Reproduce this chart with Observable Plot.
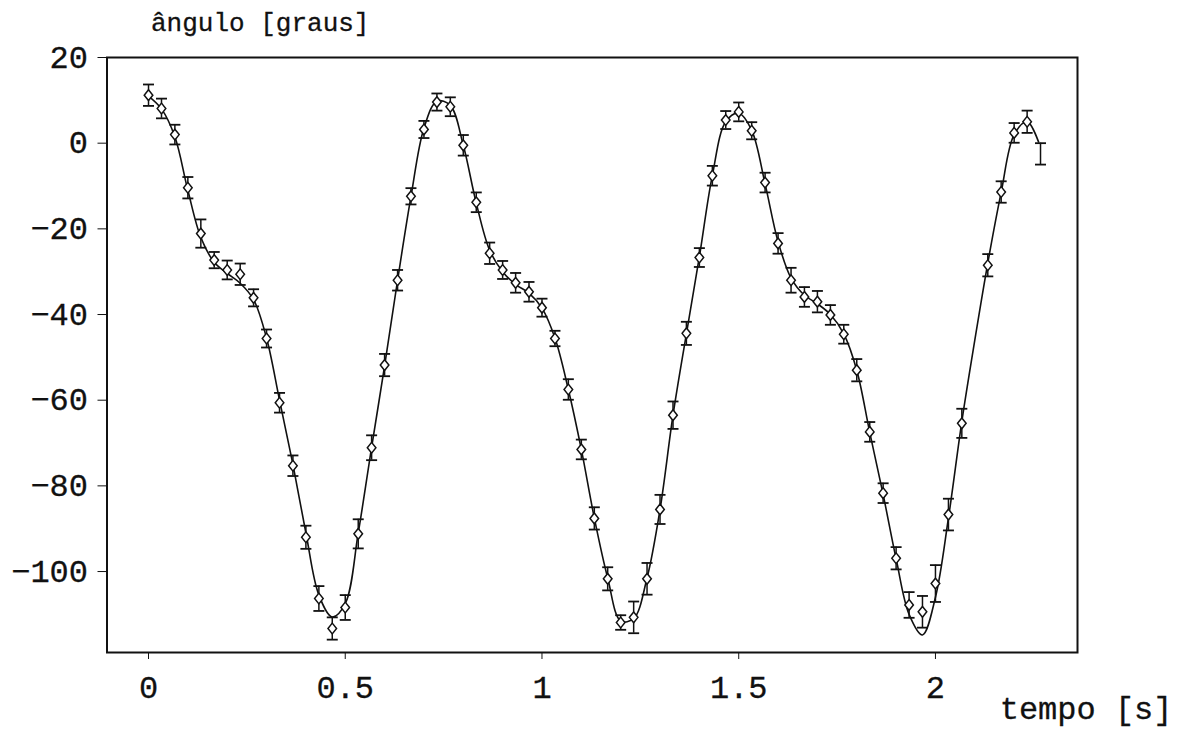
<!DOCTYPE html>
<html>
<head>
<meta charset="utf-8">
<script src="https://cdn.jsdelivr.net/npm/d3@7"></script>
<script src="https://cdn.jsdelivr.net/npm/@observablehq/plot@0.6"></script>
<style>
html,body{margin:0;padding:0;background:#fff;overflow:hidden}
#chart svg text{stroke:#111;stroke-width:0.3px}
</style>
</head>
<body>
<div id="chart"></div>
<script>
// Measured points (time in s, angle in degrees, half error bar)
const times = [0.000,0.033,0.067,0.100,0.133,0.167,0.200,0.233,0.267,0.300,
  0.333,0.367,0.400,0.433,0.467,0.500,0.533,0.567,0.600,0.633,
  0.667,0.700,0.733,0.767,0.800,0.833,0.867,0.900,0.933,0.967,
  1.000,1.033,1.067,1.100,1.133,1.167,1.200,1.233,1.267,1.300,
  1.333,1.367,1.400,1.433,1.467,1.500,1.533,1.567,1.600,1.633,
  1.667,1.700,1.733,1.767,1.800,1.833,1.867,1.900,1.933,1.967,
  2.000,2.033,2.067,2.133,2.167,2.200,2.233];
const angles = [11.2,8.1,2.0,-10.4,-21.1,-27.3,-29.6,-30.6,-36.1,-45.6,
  -60.6,-75.3,-92.0,-106.3,-113.3,-108.4,-91.2,-71.1,-51.8,-32.0,
  -12.4,3.2,9.6,8.5,-0.5,-13.8,-25.7,-29.6,-32.6,-34.7,
  -38.4,-45.6,-57.5,-71.5,-87.6,-101.7,-111.9,-110.7,-101.7,-85.5,
  -63.5,-44.4,-26.7,-7.6,5.4,7.3,2.9,-9.2,-23.4,-32.0,
  -35.9,-37.0,-40.1,-44.6,-53.0,-67.4,-81.7,-96.9,-107.8,-109.4,
  -102.8,-86.7,-65.4,-28.5,-11.4,2.4,5.0];
const errors = [2.5,2.3,2.3,2.5,3.3,1.9,2.2,2.5,2.0,2.1,
  2.3,2.4,2.7,2.9,2.6,2.9,3.4,2.9,2.6,2.4,
  1.9,2.0,2.0,2.2,2.4,2.3,2.5,2.1,2.3,2.3,
  2.1,1.8,2.4,2.3,2.6,2.7,1.7,3.7,3.7,3.4,
  3.2,2.7,2.2,2.3,2.1,2.2,2.0,2.3,2.4,2.9,
  2.3,2.5,2.3,2.2,2.6,2.3,2.3,2.6,3.0,3.7,
  4.3,3.7,3.4,2.6,2.5,2.3,2.6];

// Last error bar drawn without a marker
const barOnlyTimes = [2.267];
const barOnlyAngles = [-2.5];
const barOnlyErrors = [2.5];

// Fitted curve
const fitTimes = [0.000,0.033,0.067,0.100,0.133,0.167,0.200,0.233,0.267,0.300,
  0.333,0.367,0.400,0.433,0.467,0.500,0.533,0.567,0.600,0.633,
  0.667,0.700,0.733,0.767,0.800,0.833,0.867,0.900,0.933,0.967,
  1.000,1.033,1.067,1.100,1.133,1.167,1.200,1.233,1.267,1.300,
  1.333,1.367,1.400,1.433,1.467,1.500,1.533,1.567,1.600,1.633,
  1.667,1.700,1.733,1.767,1.800,1.833,1.867,1.900,1.933,1.967,
  2.000,2.033,2.067,2.100,2.133,2.167,2.200,2.233,2.262];
const fitAngles = [11.0,8.0,1.5,-11.0,-22.0,-27.8,-30.4,-32.7,-36.5,-45.5,
  -60.0,-75.0,-91.0,-105.5,-110.6,-107.5,-91.0,-71.0,-52.0,-32.0,
  -12.5,3.5,9.8,8.8,-0.5,-14.0,-25.0,-30.0,-33.0,-35.0,
  -38.5,-45.5,-57.5,-71.5,-87.5,-101.5,-111.5,-111.0,-101.5,-85.5,
  -63.5,-44.5,-26.5,-7.5,5.0,7.0,3.0,-9.5,-23.0,-31.5,
  -35.5,-37.5,-40.0,-44.5,-53.0,-67.5,-82.0,-97.0,-110.0,-114.8,
  -106.0,-87.5,-65.0,-46.0,-28.0,-11.5,2.0,5.0,0.3];

const xTicks = [0, 0.5, 1, 1.5, 2];
const xTickLabels = ["0", "0.5", "1", "1.5", "2"];
const yTicks = [20, 0, -20, -40, -60, -80, -100];
const yTickLabels = ["20", "0", "−20", "−40", "−60", "−80", "−100"];
const yTitle = "ângulo [graus]";
const xTitle = "tempo [s]";

const points = times.map((t, i) => ({t, a: angles[i], lo: angles[i] - errors[i], hi: angles[i] + errors[i]}));
const barsOnly = barOnlyTimes.map((t, i) => ({t, a: barOnlyAngles[i], lo: barOnlyAngles[i] - barOnlyErrors[i], hi: barOnlyAngles[i] + barOnlyErrors[i]}));
const allBars = points.concat(barsOnly);
const fit = fitTimes.map((t, i) => ({t, a: fitAngles[i]}));

const hline = {draw(ctx, size) { const r = Math.sqrt(size / Math.PI); ctx.moveTo(-r, 0); ctx.lineTo(r, 0); }};
const diamond = {draw(ctx, size) { const r = Math.sqrt(size / Math.PI);
  ctx.moveTo(0, -r * 1.25); ctx.lineTo(r, 0); ctx.lineTo(0, r * 1.25); ctx.lineTo(-r, 0); ctx.closePath(); }};

const chart = Plot.plot({
  width: 1185,
  height: 733,
  marginLeft: 106.5,
  marginRight: 108,
  marginTop: 57,
  marginBottom: 81,
  style: {fontFamily: "'Liberation Mono', 'DejaVu Sans Mono', monospace", fontSize: "32px", color: "#111", background: "#fff"},
  x: {domain: [-0.1055, 2.361], ticks: xTicks, tickFormat: d => xTickLabels[xTicks.indexOf(d)], tickSize: 7, tickPadding: 16, label: null},
  y: {domain: [-118.9, 20], ticks: yTicks, tickFormat: d => yTickLabels[yTicks.indexOf(d)], tickSize: 9, tickPadding: 10, label: null},
  marks: [
    Plot.frame({stroke: "#111", strokeWidth: 2}),
    Plot.line(fit, {x: "t", y: "a", curve: "catmull-rom", stroke: "#111", strokeWidth: 1.6}),
    Plot.ruleX(allBars, {x: "t", y1: "lo", y2: "hi", stroke: "#111", strokeWidth: 1.5}),
    Plot.dot(allBars, {x: "t", y: "lo", symbol: hline, r: 5.5, stroke: "#111", fill: "none", strokeWidth: 1.8}),
    Plot.dot(allBars, {x: "t", y: "hi", symbol: hline, r: 5.5, stroke: "#111", fill: "none", strokeWidth: 1.8}),
    Plot.dot(points, {x: "t", y: "a", symbol: diamond, r: 4.3, stroke: "#111", fill: "white", strokeWidth: 1.5}),
    Plot.text([yTitle], {frameAnchor: "top-left", dx: 44, dy: -35, textAnchor: "start", lineAnchor: "middle", fontSize: 26, fill: "#111"}),
    Plot.text([xTitle], {frameAnchor: "bottom-right", dx: 95, dy: 56, textAnchor: "end", lineAnchor: "middle", fontSize: 32, fill: "#111"})
  ]
});
document.getElementById("chart").appendChild(chart);
</script>
</body>
</html>
